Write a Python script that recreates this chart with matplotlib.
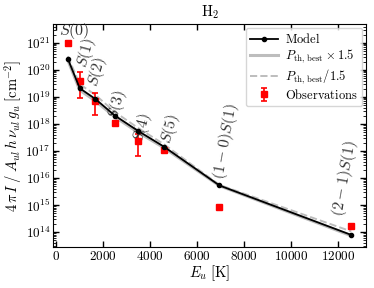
import numpy as np
import matplotlib
matplotlib.use("Agg")
import matplotlib.pyplot as plt
from matplotlib.ticker import FixedLocator, NullFormatter

plt.rcParams['font.family'] = 'serif'
plt.rcParams['font.serif'] = ['cmr10']
plt.rcParams['mathtext.fontset'] = 'cm'
plt.rcParams['axes.formatter.use_mathtext'] = True
plt.rcParams['axes.unicode_minus'] = False

# Data
lines = ["S(0)", "S(1)", "S(2)", "S(3)", "S(4)", "S(5)", "(1-0)S(1)", "(2-1)S(1)"]
E_u = [510, 1015, 1682, 2504, 3474, 4586, 6951, 12550]
log_model = [20.41, 19.32, 18.92, 18.31, 17.75, 17.16, 15.72, 13.89]
log_p_times = [20.36, 19.25, 18.85, 18.26, 17.70, 17.12, 15.71, 13.86]
log_p_div = [20.50, 19.47, 19.07, 18.44, 17.86, 17.25, 15.74, 14.02]
log_obs = [21.00, 19.59, 18.85, 18.05, 17.38, 17.04, 14.94, 14.22]
log_obs_hi = [21.06, 19.92, 19.16, 18.09, 17.63, 17.08, 14.96, 14.24]
log_obs_lo = [20.90, 18.95, 18.33, 18.01, 16.80, 17.00, 14.92, 14.20]

label_texts = [r"$S(0)$", r"$S(1)$", r"$S(2)$", r"$S(3)$", r"$S(4)$", r"$S(5)$",
               r"$(1-0)S(1)$", r"$(2-1)S(1)$"]
label_x = [766, 1298, 1745, 2617, 3681, 4850, 7234, 12255]
label_logy = [21.44, 20.65, 19.94, 18.72, 17.86, 17.81, 17.37, 16.00]
label_rot = [0, 75, 75, 75, 75, 75, 80, 80]

y_decades = [14, 15, 16, 17, 18, 19, 20, 21]

model = 10 ** np.array(log_model)
ptimes = 10 ** np.array(log_p_times)
pdiv = 10 ** np.array(log_p_div)
obs = 10 ** np.array(log_obs)
yerr = np.vstack([obs - 10 ** np.array(log_obs_lo), 10 ** np.array(log_obs_hi) - obs])

fig = plt.figure(figsize=(3.74, 2.88), dpi=100)
ax = fig.add_axes([0.142, 0.142, 0.837, 0.775])

ax.plot(E_u, model, '-', color='black', marker='o', ms=3, lw=1.3, label=r'$\mathrm{Model}$', zorder=4)
ax.plot(E_u, ptimes, '-', color='#bdbdbd', lw=2.2, label=r'$P_{\mathrm{th,\,best}}\times1.5$', zorder=2)
ax.plot(E_u, pdiv, '--', color='#bdbdbd', lw=1.4, label=r'$P_{\mathrm{th,\,best}}/1.5$', zorder=2)
ax.errorbar(E_u, obs, yerr=yerr, fmt='s', color='red', ms=5, capsize=2.5, elinewidth=1.2,
            capthick=1.2, label=r'$\mathrm{Observations}$', zorder=3)

for t, x, ly, r in zip(label_texts, label_x, label_logy, label_rot):
    ax.text(x, 10 ** ly, t, rotation=r, ha='center', va='center', fontsize=11.5, color='#333333')

ax.set_yscale('log')
ax.set_xlim(-115, 13180)
ax.set_ylim(10 ** 13.44, 10 ** 21.70)
major = [10.0 ** d for d in y_decades]
minor = [m * 10.0 ** d for d in range(13, 22) for m in range(2, 10)
         if 10 ** 13.44 < m * 10.0 ** d < 10 ** 21.70]
ax.yaxis.set_major_locator(FixedLocator(major))
ax.yaxis.set_minor_locator(FixedLocator(minor))
ax.yaxis.set_minor_formatter(NullFormatter())
ax.set_xticks([0, 2000, 4000, 6000, 8000, 10000, 12000])
ax.tick_params(which='both', direction='in', top=True, right=True, labelsize=9.5)
ax.tick_params(which='major', length=4, width=1)
ax.tick_params(which='minor', length=2, width=0.6)
ax.tick_params(axis='x', pad=2)
ax.tick_params(axis='y', pad=2)

ax.set_xlabel(r'$E_u\;[\mathrm{K}]$', fontsize=10.5, labelpad=0)
ax.set_ylabel(r'$4\,\pi\,I\;/\;A_{ul}\,h\,\nu_{ul}\,g_u\;[\mathrm{cm}^{-2}]$', fontsize=10.5, labelpad=1)
ax.set_title(r'$\mathrm{H}_2$', fontsize=10.5, pad=5)

leg = ax.legend(loc='upper right', fontsize=9, frameon=True, fancybox=True,
                borderpad=0.35, handlelength=2.2, labelspacing=0.15, borderaxespad=0.3,
                handletextpad=0.6)
leg.get_frame().set_edgecolor('#cccccc')

fig.savefig('out.png', dpi=100)
